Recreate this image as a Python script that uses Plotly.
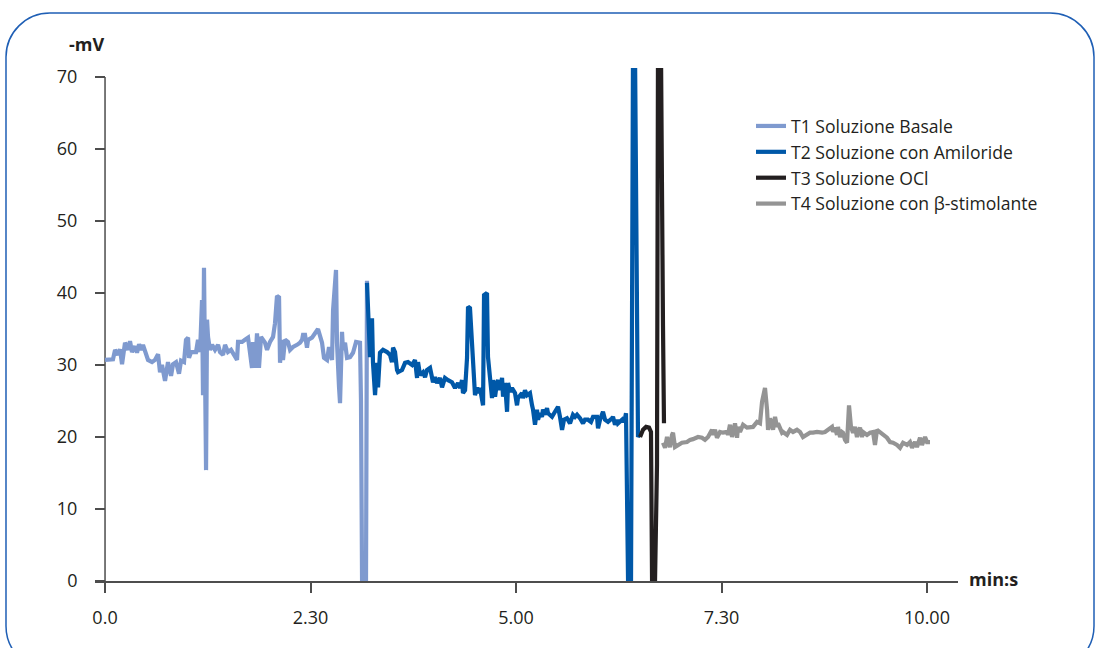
import plotly.graph_objects as go

# ---- measured potential (-mV) against time (minutes) for each solution ----
t1_time = [0.000, 0.061, 0.097, 0.122, 0.158, 0.182, 0.207, 0.243, 0.280, 0.304, 0.328, 0.365,
           0.389, 0.414, 0.438, 0.462, 0.499, 0.523, 0.572, 0.608, 0.645, 0.669, 0.693, 0.730,
           0.766, 0.803, 0.827, 0.864, 0.900, 0.925, 0.961, 0.985, 1.010, 1.022, 1.046, 1.107,
           1.131, 1.156, 1.180, 1.192, 1.204, 1.229, 1.241, 1.253, 1.277, 1.302, 1.338, 1.375,
           1.399, 1.436, 1.460, 1.496, 1.533, 1.569, 1.606, 1.618, 1.667, 1.703, 1.740, 1.788,
           1.800, 1.825, 1.849, 1.873, 1.898, 1.946, 1.971, 2.007, 2.044, 2.068, 2.092, 2.117,
           2.129, 2.153, 2.165, 2.190, 2.226, 2.251, 2.287, 2.336, 2.372, 2.397, 2.409, 2.433,
           2.457, 2.470, 2.518, 2.555, 2.591, 2.640, 2.664, 2.701, 2.725, 2.762, 2.774, 2.810,
           2.822, 2.847, 2.859, 2.883, 2.895, 2.920, 2.944, 2.981, 3.017, 3.054, 3.078, 3.102,
           3.114, 3.127, 3.175, 3.187]
t1_mv = [30.7, 30.7, 30.8, 32.1, 31.4, 32.2, 30.1, 33.1, 32.1, 33.3, 31.8, 32.6,
         31.7, 32.9, 32.1, 32.8, 31.4, 30.7, 30.4, 30.7, 31.5, 29.0, 30.0, 27.8,
         30.4, 28.5, 30.1, 30.4, 28.8, 30.6, 30.4, 33.5, 33.8, 31.0, 31.8, 31.8,
         33.5, 31.8, 39.0, 25.8, 43.5, 15.4, 36.3, 33.9, 32.1, 32.8, 32.1, 32.8,
         31.8, 31.4, 32.8, 31.8, 32.1, 31.4, 30.7, 33.2, 33.2, 33.5, 33.8, 29.6,
         33.2, 29.6, 34.4, 29.6, 33.9, 33.1, 32.1, 33.2, 33.9, 35.8, 39.6, 39.4,
         30.3, 33.5, 30.7, 33.5, 33.2, 32.1, 32.5, 32.8, 33.1, 33.5, 34.2, 34.2,
         32.4, 33.5, 33.8, 34.4, 35.0, 33.1, 31.0, 30.7, 32.5, 30.7, 37.6, 43.2,
         33.1, 26.9, 24.7, 34.6, 32.1, 33.1, 31.0, 31.1, 31.7, 33.2, 33.2, 33.1,
         25.1, 0.0, 0.0, 41.7]

t2_time = [3.187, 3.200, 3.224, 3.248, 3.260, 3.285, 3.309, 3.321, 3.345, 3.382, 3.431, 3.467,
           3.491, 3.504, 3.528, 3.552, 3.564, 3.613, 3.650, 3.686, 3.735, 3.771, 3.796, 3.808,
           3.832, 3.869, 3.893, 3.917, 3.954, 3.990, 4.015, 4.039, 4.075, 4.100, 4.136, 4.173,
           4.221, 4.258, 4.294, 4.319, 4.343, 4.355, 4.380, 4.404, 4.416, 4.440, 4.465, 4.501,
           4.526, 4.538, 4.562, 4.599, 4.611, 4.647, 4.659, 4.684, 4.708, 4.720, 4.745, 4.769,
           4.781, 4.805, 4.830, 4.842, 4.866, 4.891, 4.903, 4.927, 4.951, 4.988, 5.012, 5.024,
           5.073, 5.085, 5.109, 5.134, 5.170, 5.195, 5.207, 5.231, 5.255, 5.268, 5.292, 5.316,
           5.328, 5.353, 5.377, 5.389, 5.438, 5.474, 5.511, 5.535, 5.560, 5.584, 5.620, 5.657,
           5.693, 5.718, 5.742, 5.779, 5.815, 5.839, 5.876, 5.912, 5.937, 5.985, 5.998, 6.022,
           6.046, 6.058, 6.083, 6.119, 6.168, 6.180, 6.204, 6.229, 6.241, 6.290, 6.302, 6.326,
           6.338, 6.363, 6.399, 6.423, 6.448, 6.472, 6.484, 6.521]
t2_mv = [41.4, 36.5, 31.1, 36.5, 30.3, 25.8, 30.3, 26.9, 31.7, 32.1, 31.8, 31.4,
         30.4, 32.4, 31.8, 29.3, 29.0, 29.3, 30.3, 30.4, 30.0, 30.7, 28.2, 30.4,
         28.6, 29.0, 28.3, 29.3, 29.6, 27.6, 28.3, 27.5, 28.2, 26.9, 28.2, 27.9,
         27.6, 26.8, 27.5, 26.8, 27.9, 26.1, 26.5, 31.0, 38.1, 37.9, 32.4, 25.8,
         26.9, 26.1, 26.8, 24.4, 39.7, 40.0, 31.1, 27.5, 25.4, 27.9, 25.6, 27.6,
         27.9, 26.5, 28.2, 25.6, 27.5, 23.5, 27.5, 26.3, 26.8, 26.1, 24.4, 25.4,
         26.1, 25.4, 26.5, 25.8, 26.1, 24.4, 23.8, 21.7, 23.8, 22.4, 23.3, 22.8,
         23.8, 23.1, 24.0, 23.3, 22.8, 23.5, 24.2, 22.8, 21.0, 22.4, 22.6, 21.9,
         23.1, 22.8, 23.1, 22.6, 21.9, 22.4, 22.4, 22.1, 22.8, 22.8, 21.2, 22.4,
         23.3, 23.5, 22.4, 22.1, 22.6, 22.8, 21.7, 22.4, 21.9, 22.4, 22.1, 22.6,
         23.3, 0.0, 0.0, 73.0, 73.0, 39.0, 20.0, 20.7]

t3_time = [6.509, 6.545, 6.582, 6.618, 6.642, 6.655, 6.691, 6.715, 6.727, 6.764, 6.788, 6.800]
t3_mv = [20.0, 21.0, 21.4, 21.3, 20.7, 0.0, 0.0, 16.1, 73.0, 73.0, 35.5, 21.9]

t4_time = [6.788, 6.813, 6.837, 6.873, 6.898, 6.910, 6.934, 6.971, 7.019, 7.080, 7.117, 7.153,
           7.214, 7.263, 7.299, 7.336, 7.384, 7.397, 7.421, 7.445, 7.482, 7.518, 7.567, 7.579,
           7.603, 7.628, 7.664, 7.689, 7.701, 7.725, 7.762, 7.810, 7.847, 7.883, 7.932, 7.968,
           7.993, 8.029, 8.054, 8.066, 8.090, 8.127, 8.151, 8.175, 8.187, 8.236, 8.248, 8.297,
           8.333, 8.370, 8.418, 8.455, 8.491, 8.540, 8.577, 8.613, 8.662, 8.723, 8.759, 8.796,
           8.844, 8.856, 8.881, 8.905, 8.917, 8.942, 8.966, 8.978, 9.002, 9.027, 9.039, 9.051,
           9.075, 9.100, 9.124, 9.148, 9.161, 9.185, 9.209, 9.221, 9.270, 9.307, 9.343, 9.367,
           9.392, 9.428, 9.465, 9.513, 9.550, 9.586, 9.635, 9.672, 9.708, 9.757, 9.793, 9.818,
           9.854, 9.878, 9.915, 9.939, 9.976, 10.000, 10.036]
t4_mv = [19.2, 18.5, 20.0, 18.6, 20.3, 20.6, 18.6, 18.8, 19.2, 19.3, 19.6, 19.7,
         20.0, 19.9, 19.6, 20.0, 21.0, 20.3, 21.0, 19.9, 20.7, 20.6, 20.7, 20.3,
         21.7, 20.0, 21.9, 19.9, 21.4, 20.7, 21.7, 21.3, 21.4, 21.4, 22.1, 21.9,
         24.9, 26.8, 23.8, 21.0, 22.6, 21.0, 22.8, 21.4, 21.9, 20.6, 20.7, 20.3,
         21.0, 20.7, 21.0, 20.7, 20.0, 20.3, 20.6, 20.6, 20.7, 20.6, 20.7, 21.0,
         21.4, 20.7, 21.3, 20.3, 21.4, 20.0, 20.7, 20.6, 19.6, 19.2, 21.4, 24.4,
         21.4, 20.6, 21.4, 20.0, 20.7, 21.3, 20.0, 20.7, 20.3, 20.6, 20.7, 18.9,
         21.0, 20.7, 20.3, 19.9, 19.3, 19.2, 18.9, 18.5, 19.2, 18.9, 19.3, 18.5,
         19.3, 18.6, 19.9, 18.9, 20.0, 19.3, 19.3]

series_names = ["T1 Soluzione Basale", "T2 Soluzione con Amiloride",
                "T3 Soluzione OCl", "T4 Soluzione con \u03b2-stimolante"]
series_colors = ["#7f9acf", "#0058a8", "#231f20", "#949494"]

x_tickvals = [0, 2.5, 5, 7.5, 10]
x_ticktext = ["0.0", "2.30", "5.00", "7.30", "10.00"]
y_tickvals = [0, 10, 20, 30, 40, 50, 60, 70]

# ---- page geometry (pixels) ----
W, H = 1097, 648
M_L, M_R, M_T, M_B = 95, 139, 68, 67
PLOT_W = W - M_L - M_R
PLOT_H = H - M_T - M_B
X_MIN, X_MAX = -0.122, 10.377
Y_MIN, Y_MAX = 0, 71.25
FONT = "Open Sans"
TXT = "#231f20"


def paper(px, py):
    return (px - M_L) / PLOT_W, (H - M_B - py) / PLOT_H


fig = go.Figure()
for xs, ys, name, col in zip([t1_time, t2_time, t3_time, t4_time],
                             [t1_mv, t2_mv, t3_mv, t4_mv],
                             series_names, series_colors):
    fig.add_trace(go.Scatter(x=xs, y=ys, mode="lines", name=name,
                             line=dict(color=col, width=4.2)))

# y axis line, from 0 to 70
fig.add_shape(type="line", xref="x", yref="y", x0=0, x1=0, y0=0, y1=70,
              line=dict(color="#4d4d4d", width=1.5), layer="below")

# rounded frame around the figure
left, top, right, bottom, r = 6, 13, 1094, 670, 44
k = 0.5523 * r


def P(x, y):
    a, b = paper(x, y)
    return f"{a:.5f},{b:.5f}"


path = (
    f"M {P(left + r, top)} L {P(right - r, top)} "
    f"C {P(right - r + k, top)} {P(right, top + r - k)} {P(right, top + r)} "
    f"L {P(right, bottom - r)} "
    f"C {P(right, bottom - r + k)} {P(right - r + k, bottom)} {P(right - r, bottom)} "
    f"L {P(left + r, bottom)} "
    f"C {P(left + r - k, bottom)} {P(left, bottom - r + k)} {P(left, bottom - r)} "
    f"L {P(left, top + r)} "
    f"C {P(left, top + r - k)} {P(left + r - k, top)} {P(left + r, top)} Z"
)
fig.add_shape(type="path", xref="paper", yref="paper", path=path,
              line=dict(color="#1f5fb5", width=1.5), fillcolor="rgba(0,0,0,0)")

# axis titles
ax, ay = paper(86, 44)
fig.add_annotation(x=ax, y=ay, xref="paper", yref="paper", text="<b>-mV</b>",
                   showarrow=False, xanchor="center", yanchor="middle",
                   font=dict(family=FONT, size=18, color=TXT))
ax, ay = paper(967, 579)
fig.add_annotation(x=ax, y=ay, xref="paper", yref="paper", text="<b>min:s</b>",
                   showarrow=False, xanchor="left", yanchor="middle",
                   font=dict(family=FONT, size=18, color=TXT))

lx, ly = paper(751, 108)
fig.update_layout(
    width=W, height=H,
    margin=dict(l=M_L, r=M_R, t=M_T, b=M_B, pad=0),
    paper_bgcolor="white", plot_bgcolor="white",
    font=dict(family=FONT, size=18, color=TXT),
    showlegend=True,
    legend=dict(x=lx, y=ly, xanchor="left", yanchor="top",
                bgcolor="rgba(0,0,0,0)", font=dict(size=17.6, color=TXT),
                tracegroupgap=0, itemwidth=30),
    xaxis=dict(range=[X_MIN, X_MAX], tickmode="array", tickvals=x_tickvals,
               ticktext=x_ticktext, showgrid=False, zeroline=False,
               showline=True, linecolor="#4d4d4d", linewidth=1.5,
               ticks="outside", ticklen=10, tickcolor="#4d4d4d", tickwidth=1.5,
               ticklabelstandoff=10, tickfont=dict(size=18, color=TXT)),
    yaxis=dict(range=[Y_MIN, Y_MAX], tickmode="array", tickvals=y_tickvals,
               showgrid=False, zeroline=False, showline=False,
               anchor="free", position=(0 - X_MIN) / (X_MAX - X_MIN),
               ticks="outside", ticklen=10, tickcolor="#4d4d4d", tickwidth=1.5,
               ticklabelstandoff=14, tickfont=dict(size=18, color=TXT)),
)

fig.write_html("out.html")
